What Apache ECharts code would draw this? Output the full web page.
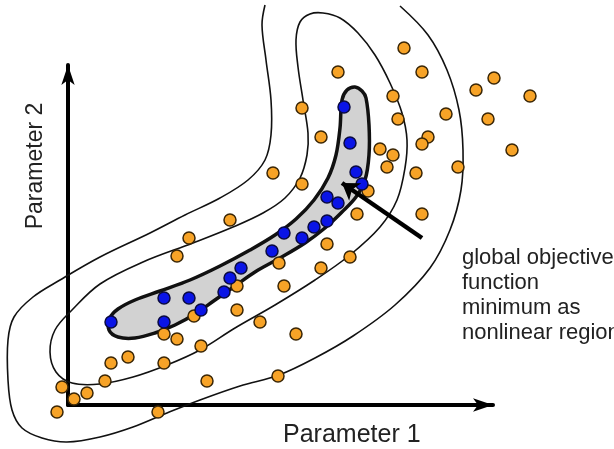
<!DOCTYPE html>
<html>
<head>
<meta charset="utf-8">
<script src="https://cdn.jsdelivr.net/npm/echarts@6/dist/echarts.min.js"></script>
<style>
  html, body { margin: 0; padding: 0; background: #fff; }
  #chart { width: 614px; height: 449px; }
</style>
</head>
<body>
<div id="chart"></div>
<script>
// sampled parameter sets (x = parameter 1, y = parameter 2)
var orangePoints = [
  [336, 357], [270, 333], [354, 333], [426, 327], [408, 315], [462, 309], [325, 309],
  [378, 291], [330, 286], [420, 286], [234, 297], [253, 268], [360, 268], [354, 261],
  [312, 256], [325, 250], [444, 255], [319, 238], [390, 238], [348, 232], [234, 221],
  [300, 214], [289, 191], [354, 191], [205, 232], [162, 185], [121, 167], [109, 149],
  [259, 161], [282, 148], [211, 142], [253, 137], [216, 119], [169, 119], [169, 95],
  [126, 89], [192, 83], [228, 71], [96, 71], [109, 66], [133, 59], [60, 48], [43, 42],
  [96, 42], [210, 29], [139, 24], [37, 24], [-6, 18], [19, 12], [6, 6], [-11, -7], [90, -7]
];
var bluePoints = [
  [276, 298], [282, 262], [288, 233], [294, 221], [259, 208], [270, 202], [259, 184],
  [246, 178], [216, 172], [234, 167], [204, 154], [173, 137], [162, 127], [156, 113],
  [133, 95], [121, 107], [96, 107], [96, 83], [43, 83]
];

// minimum region (shaded), upper and lower edge
var minUpper = [
  [42, 87], [50, 96], [67, 105], [92, 114], [122, 125], [152, 139], [182, 155], [207, 170],
  [228, 186], [246, 205], [260, 227], [268, 250], [272, 277], [274, 305], [279, 315],
  [287, 318], [294, 314], [298, 307]
];
var minLower = [
  [301, 280], [301, 250], [297, 225], [288, 208], [274, 193], [257, 177], [237, 162],
  [212, 147], [187, 133], [167, 119], [147, 105], [127, 91], [107, 80], [87, 72], [67, 67],
  [50, 68], [41, 75]
];

// objective function contours
var contourInner = [
  [255, 392], [272, 387], [290, 372], [307, 350], [322, 322], [334, 292], [339, 265],
  [337, 237], [329, 205], [312, 178], [282, 150], [247, 125], [207, 100], [167, 77],
  [132, 55], [99, 40], [65, 28], [32, 21], [4, 22], [-12, 33], [-18, 53], [-13, 75],
  [4, 95], [32, 121], [75, 143], [125, 162], [165, 178], [195, 192], [217, 207],
  [232, 227], [239, 250], [240, 272], [235, 305], [230, 338], [228, 365], [232, 383], [242, 391]
];
var contourOuter = [
  [197, 400], [194, 380], [198, 345], [203, 305], [203, 270], [197, 245], [180, 225],
  [152, 207], [117, 190], [82, 172], [32, 148], [-8, 125], [-35, 108], [-54, 88],
  [-60, 65], [-60, 25], [-56, -5], [-46, -23], [-26, -33], [-1, -37], [32, -32],
  [65, -22], [99, -8], [132, 5], [172, 19], [211, 30], [247, 47], [285, 69], [327, 100],
  [362, 137], [382, 175], [393, 215], [395, 255], [391, 295], [379, 335], [360, 370], [332, 399]
];

var pointerArrow = [[354, 167], [274, 222]];

var noteText = ['global objective', 'function', 'minimum as', 'nonlinear region'];

var chart = echarts.init(document.getElementById('chart'));

function shapeSeries(points, closed, fill, width, z) {
  return {
    type: 'custom',
    coordinateSystem: 'cartesian2d',
    data: [[0, 0]],
    silent: true,
    clip: false,
    z: z,
    renderItem: function (params, api) {
      var pts = points.map(function (p) { return api.coord(p); });
      return {
        type: closed ? 'polygon' : 'polyline',
        shape: { points: pts, smooth: 0.35 },
        style: { fill: fill || 'none', stroke: '#111', lineWidth: width }
      };
    }
  };
}

var axisLineStyle = {
  show: true,
  onZero: false,
  symbol: ['none', 'arrow'],
  symbolSize: [10, 20],
  lineStyle: { color: '#000', width: 4 }
};

chart.setOption({
  animation: false,
  backgroundColor: '#fff',
  grid: { left: 68, top: 65, width: 425, height: 340, outerBoundsMode: 'none' },
  xAxis: {
    type: 'value', min: 0, max: 425,
    axisLine: axisLineStyle,
    axisTick: { show: false }, axisLabel: { show: false }, splitLine: { show: false }
  },
  yAxis: {
    type: 'value', min: 0, max: 340,
    axisLine: axisLineStyle,
    axisTick: { show: false }, axisLabel: { show: false }, splitLine: { show: false }
  },
  graphic: [
    {
      type: 'text', x: 283, y: 435,
      style: {
        text: 'Parameter 1', fill: '#222', align: 'left', verticalAlign: 'middle',
        font: '25px "Liberation Sans", Arial, sans-serif'
      }
    },
    {
      type: 'text', x: 36, y: 166, rotation: Math.PI / 2,
      style: {
        text: 'Parameter 2', fill: '#222', align: 'center', verticalAlign: 'middle',
        font: '23px "Liberation Sans", Arial, sans-serif'
      }
    },
    {
      type: 'text', x: 462, y: 245,
      style: {
        text: noteText.join('\n'), fill: '#222', align: 'left', verticalAlign: 'top',
        lineHeight: 25, font: '22px "Liberation Sans", Arial, sans-serif'
      }
    }
  ],
  series: [
    shapeSeries(contourOuter, false, null, 1.6, 1),
    shapeSeries(contourInner, true, null, 1.6, 1),
    shapeSeries(minUpper.concat(minLower), true, '#d2d2d2', 3.5, 2),
    {
      type: 'scatter',
      data: orangePoints,
      symbolSize: 12,
      clip: false,
      silent: true,
      z: 3,
      itemStyle: { color: '#f7a327', borderColor: '#3a2606', borderWidth: 1.5, opacity: 1 }
    },
    {
      type: 'scatter',
      data: bluePoints,
      symbolSize: 12,
      clip: false,
      silent: true,
      z: 4,
      itemStyle: { color: '#0a14e6', borderColor: '#0a0a40', borderWidth: 1.5, opacity: 1 }
    },
    {
      type: 'lines',
      coordinateSystem: 'cartesian2d',
      data: [{ coords: pointerArrow }],
      symbol: ['none', 'arrow'],
      symbolSize: 16,
      silent: true,
      z: 5,
      lineStyle: { color: '#000', width: 4.5, opacity: 1 }
    }
  ]
});
</script>
</body>
</html>
